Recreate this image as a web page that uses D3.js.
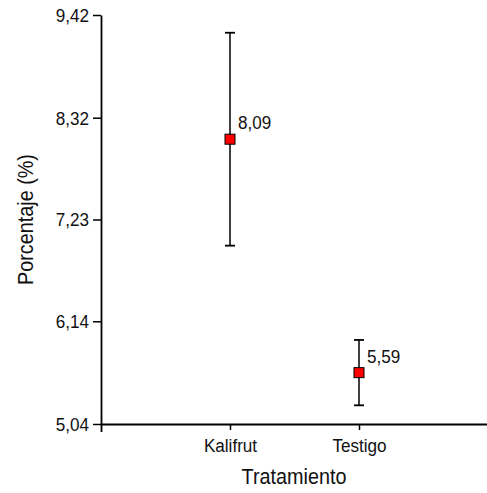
<!DOCTYPE html>
<html>
<head>
<meta charset="utf-8">
<script src="https://cdn.jsdelivr.net/npm/d3@7"></script>
<style>
  html, body { margin: 0; padding: 0; background: #fff; }
  svg { display: block; font-family: "Liberation Sans", Arial, sans-serif; }
</style>
</head>
<body>
<svg id="chart" width="487" height="493"></svg>
<script>
const categories = ["Kalifrut", "Testigo"];
const means = [8.09, 5.59];
const errors = [1.14, 0.35];
const valueLabels = ["8,09", "5,59"];
const yTicks = [5.04, 6.14, 7.23, 8.32, 9.42];
const yTickLabels = ["5,04", "6,14", "7,23", "8,32", "9,42"];
const xTitle = "Tratamiento";
const yTitle = "Porcentaje (%)";

(function () {
const plotLeft = 101, plotRight = 488, plotTop = 15, plotBottom = 424;
const FONT = "'Liberation Sans', Arial, sans-serif";
const CX = 0.9; // condensed text in the reference

const svg = d3.select("#chart");

const x = d3.scalePoint().domain(categories).range([plotLeft, plotRight]).padding(1);
const y = d3.scaleLinear().domain([5.04, 9.42]).range([plotBottom, plotTop]);

// Y axis
const yAxis = d3.axisLeft(y)
  .tickValues(yTicks)
  .tickFormat((d, i) => yTickLabels[i])
  .tickSize(8)
  .tickSizeOuter(0);
const gy = svg.append("g").attr("transform", `translate(${plotLeft},0)`).call(yAxis);
gy.select(".domain").attr("stroke", "#000").attr("stroke-width", 1.8);
gy.selectAll(".tick line").attr("stroke", "#000").attr("stroke-width", 1.5);
gy.selectAll(".tick text")
  .attr("x", -12 / CX)
  .attr("dy", "0.34em")
  .attr("transform", `scale(${CX},1)`)
  .attr("fill", "#111")
  .style("font-size", "19px")
  .style("font-family", FONT);

// X axis
const xAxis = d3.axisBottom(x).tickSize(6).tickSizeOuter(8);
const gx = svg.append("g").attr("transform", `translate(0,${plotBottom})`).call(xAxis);
gx.select(".domain").attr("stroke", "#000").attr("stroke-width", 1.8);
gx.selectAll(".tick line").attr("stroke", "#000").attr("stroke-width", 1.5);
gx.selectAll(".tick text")
  .attr("y", 27.7)
  .attr("dy", 0)
  .attr("transform", `scale(${CX},1)`)
  .attr("fill", "#111")
  .style("font-size", "19px")
  .style("font-family", FONT);

// Axis titles
svg.append("text")
  .attr("transform", `translate(${(plotLeft + 487) / 2},483.5) scale(${CX},1)`)
  .attr("text-anchor", "middle")
  .attr("fill", "#111")
  .style("font-size", "22px")
  .text(xTitle);

svg.append("text")
  .attr("transform", `translate(32.5,${(plotTop + plotBottom) / 2}) rotate(-90) scale(${CX},1)`)
  .attr("text-anchor", "middle")
  .attr("fill", "#111")
  .style("font-size", "22px")
  .text(yTitle);

// Error bars
const capW = 10;
const g = svg.append("g");
categories.forEach((c, i) => {
  const cx = x(c);
  const hi = y(means[i] + errors[i]);
  const lo = y(means[i] - errors[i]);
  g.append("line").attr("x1", cx).attr("x2", cx).attr("y1", hi).attr("y2", lo)
    .attr("stroke", "#000").attr("stroke-width", 1.5);
  g.append("line").attr("x1", cx - capW / 2).attr("x2", cx + capW / 2).attr("y1", hi).attr("y2", hi)
    .attr("stroke", "#000").attr("stroke-width", 1.8);
  g.append("line").attr("x1", cx - capW / 2).attr("x2", cx + capW / 2).attr("y1", lo).attr("y2", lo)
    .attr("stroke", "#000").attr("stroke-width", 1.8);
  g.append("rect")
    .attr("x", cx - 5).attr("y", y(means[i]) - 5)
    .attr("width", 10).attr("height", 10)
    .attr("fill", "#ff0000").attr("stroke", "#000").attr("stroke-width", 1);
  g.append("text")
    .attr("transform", `translate(${cx + 8},${y(means[i]) - 10}) scale(${CX},1)`)
    .attr("fill", "#111")
    .style("font-size", "19px")
    .text(valueLabels[i]);
});
})();
</script>
</body>
</html>
